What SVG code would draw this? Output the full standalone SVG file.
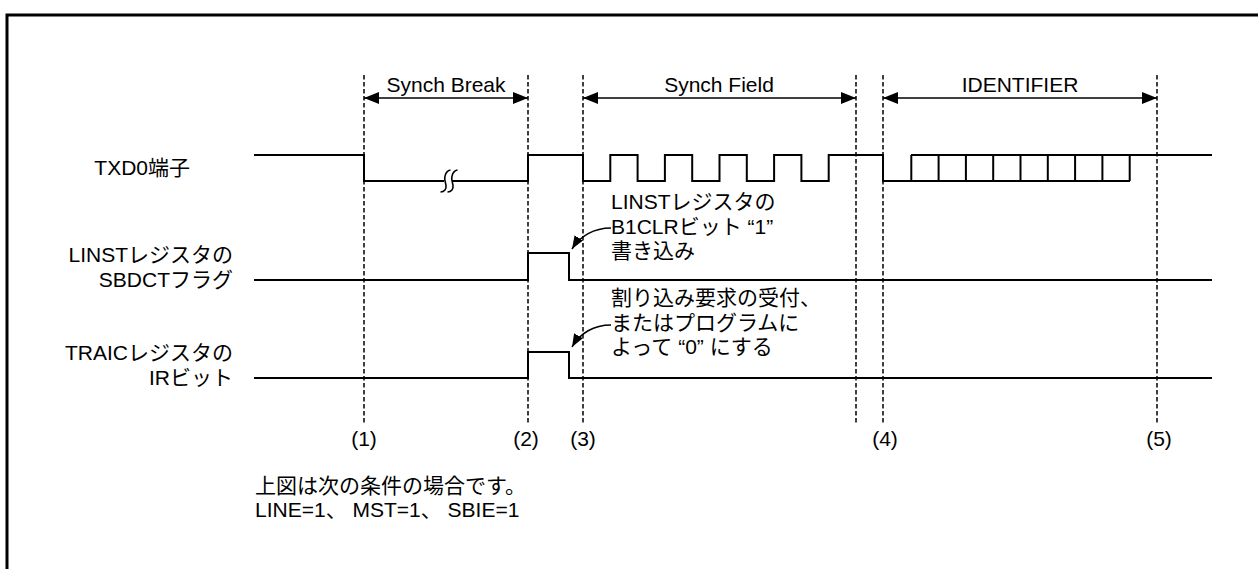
<svg xmlns="http://www.w3.org/2000/svg" width="1258" height="569" viewBox="0 0 1258 569">
<defs>
<style>
text{font-family:"Liberation Sans","Noto Sans CJK JP",sans-serif;font-size:21px;fill:#000}
.wave{fill:none;stroke:#000;stroke-width:2}
.dash{fill:none;stroke:#000;stroke-width:1.5;stroke-dasharray:4.5 2.5}
.dim{fill:none;stroke:#000;stroke-width:1.5}
.mid{text-anchor:middle}
.end{text-anchor:end}
</style>
<marker id="ah" markerUnits="userSpaceOnUse" markerWidth="16" markerHeight="12" refX="15" refY="6" orient="auto-start-reverse">
<path d="M0,0 L15,6 L0,12 Z" fill="#000"/>
</marker>
<marker id="ah2" markerUnits="userSpaceOnUse" markerWidth="14" markerHeight="10" refX="13" refY="5" orient="auto">
<path d="M0,0 L13,5 L0,10 Z" fill="#000"/>
</marker>
</defs>
<rect width="1258" height="569" fill="#fff"/>
<path d="M7,569 V15 H1258" fill="none" stroke="#000" stroke-width="3"/>

<g id="timing-markers">
<path class="dash" d="M364,75 V423 M528,75 V423 M583,75 V423 M856,75 V423 M883,75 V423 M1157,75 V423"/>
<text class="mid" x="364" y="446">(1)</text>
<text class="mid" x="526" y="446">(2)</text>
<text class="mid" x="583" y="446">(3)</text>
<text class="mid" x="885" y="446">(4)</text>
<text class="mid" x="1159" y="446">(5)</text>
</g>

<g id="field-spans">
<path class="dim" d="M364,98 H528" marker-start="url(#ah)" marker-end="url(#ah)"/>
<text class="mid" x="446" y="92">Synch Break</text>
<path class="dim" d="M583,98 H856" marker-start="url(#ah)" marker-end="url(#ah)"/>
<text class="mid" x="719" y="92">Synch Field</text>
<path class="dim" d="M883,98 H1157" marker-start="url(#ah)" marker-end="url(#ah)"/>
<text class="mid" x="1020" y="92">IDENTIFIER</text>
</g>

<g id="txd0">
<text class="end" x="190" y="175">TXD0端子</text>
<path class="wave" d="M254,155 H364 V181 H528 V155 H583 V181 H610.3 V155 H637.6 V181 H664.9 V155 H692.2 V181 H719.5 V155 H746.8 V181 H774.1 V155 H801.4 V181 H828.7 V155 H883 V181 H1130"/>
<path class="wave" d="M911,155 H1212 M911.3,155 V181 M938.6,155 V181 M965.9,155 V181 M993.2,155 V181 M1020.5,155 V181 M1047.8,155 V181 M1075.1,155 V181 M1102.4,155 V181 M1129.7,155 V181"/>
<rect x="444" y="177" width="8" height="8" fill="#fff"/>
<path d="M440.5,192 C444.5,192 446.5,189 446,185.5 C445.5,182 444,179 445,176 C446,172 448,170.5 450.5,170 M447.5,192 C451.5,192 453.5,189 453,185.5 C452.5,182 451,179 452,176 C453,172 455,170.5 457.5,170" fill="none" stroke="#000" stroke-width="1.6"/>
</g>

<g id="sbdct">
<text class="end" x="233" y="262">LINSTレジスタの</text>
<text class="end" x="233" y="287">SBDCTフラグ</text>
<path class="wave" d="M254,280 H528 V253 H569 V280 H1212"/>
</g>

<g id="ir">
<text class="end" x="233" y="360">TRAICレジスタの</text>
<text class="end" x="233" y="385">IRビット</text>
<path class="wave" d="M254,378 H528 V352 H569 V378 H1212"/>
</g>

<g id="connectors">
<path class="dim" d="M611,228 C594,228 580,236 572,249" marker-end="url(#ah2)"/>
<path class="dim" d="M611,325 C594,325 580,333 572,347" marker-end="url(#ah2)"/>
</g>

<g id="note-b1clr">
<text x="611" y="209">LINSTレジスタの</text>
<text x="611" y="233.5">B1CLRビット “1”</text>
<text x="611" y="258">書き込み</text>
</g>

<g id="note-ir">
<text x="611" y="305">割り込み要求の受付、</text>
<text x="611" y="329.5">またはプログラムに</text>
<text x="611" y="354">よって “0” にする</text>
</g>

<g id="footnote">
<text x="255" y="493">上図は次の条件の場合です。</text>
<text x="255" y="517">LINE=1、 MST=1、 SBIE=1</text>
</g>
</svg>
